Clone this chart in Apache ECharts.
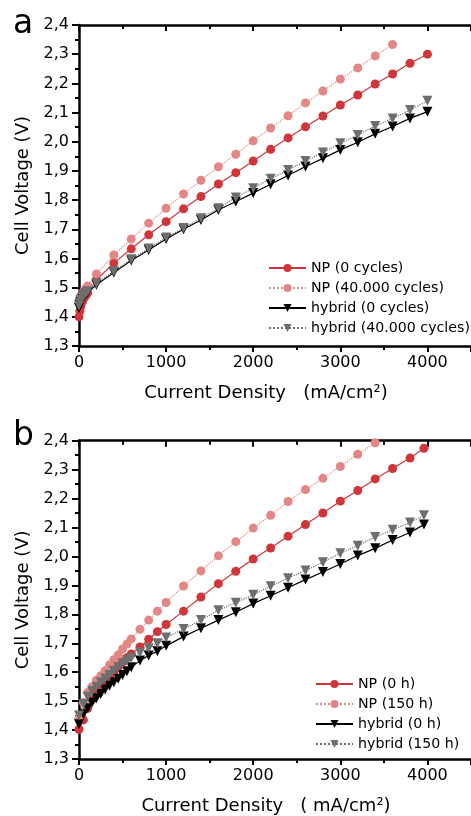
<!DOCTYPE html>
<html>
<head>
<meta charset="utf-8">
<script src="https://cdn.jsdelivr.net/npm/echarts@6/dist/echarts.min.js"></script>
<style>
html,body{margin:0;padding:0;background:#fff;}
#chart{width:471px;height:816px;}
</style>
</head>
<body>
<div id="chart"></div>
<script>
//面板a：电流密度 (mA/cm²)
var aX = [0,10,20,40,60,80,100,200,400,600,800,1000,1200,1400,1600,1800,2000,2200,2400,2600,2800,3000,3200,3400,3600,3800,4000];
var aNP0 = [1.400,1.420,1.435,1.452,1.465,1.474,1.482,1.527,1.584,1.633,1.681,1.726,1.770,1.812,1.855,1.894,1.934,1.974,2.013,2.051,2.088,2.126,2.160,2.198,2.232,2.269,2.300];
var aNP40k = [1.455,1.465,1.472,1.482,1.490,1.498,1.506,1.547,1.612,1.667,1.721,1.772,1.821,1.868,1.914,1.957,2.003,2.047,2.089,2.133,2.174,2.215,2.253,2.294,2.333];
var aHyb0 = [1.430,1.442,1.452,1.463,1.471,1.478,1.484,1.510,1.552,1.593,1.629,1.667,1.700,1.732,1.766,1.795,1.824,1.854,1.884,1.915,1.943,1.972,1.998,2.027,2.052,2.080,2.103];
var aHyb40k = [1.438,1.449,1.458,1.468,1.475,1.482,1.488,1.514,1.556,1.597,1.634,1.672,1.704,1.738,1.772,1.809,1.841,1.873,1.903,1.934,1.963,1.995,2.023,2.054,2.080,2.109,2.140];
var aNames = ['NP (0 cycles)','NP (40.000 cycles)','hybrid (0 cycles)','hybrid (40.000 cycles)'];

//面板b
var bX = [0,50,100,150,200,250,300,350,400,450,500,550,600,700,800,900,1000,1200,1400,1600,1800,2000,2200,2400,2600,2800,3000,3200,3400,3600,3800,3960];
var bNP0 = [1.403,1.435,1.475,1.505,1.530,1.550,1.568,1.585,1.602,1.618,1.635,1.650,1.663,1.687,1.714,1.740,1.765,1.811,1.860,1.906,1.949,1.991,2.029,2.070,2.110,2.150,2.191,2.228,2.268,2.304,2.340,2.374];
var bNP150 = [1.440,1.495,1.530,1.550,1.572,1.588,1.605,1.625,1.643,1.660,1.680,1.697,1.715,1.748,1.780,1.811,1.841,1.898,1.950,2.002,2.051,2.098,2.142,2.190,2.231,2.270,2.311,2.353,2.393];
var bHyb0 = [1.420,1.455,1.475,1.495,1.510,1.525,1.540,1.553,1.565,1.577,1.590,1.603,1.617,1.640,1.658,1.672,1.691,1.723,1.752,1.780,1.807,1.837,1.864,1.892,1.920,1.946,1.974,2.003,2.028,2.057,2.083,2.110];
var bHyb150 = [1.450,1.490,1.515,1.535,1.550,1.565,1.578,1.590,1.605,1.618,1.630,1.640,1.649,1.668,1.683,1.700,1.720,1.749,1.780,1.814,1.840,1.868,1.897,1.925,1.951,1.980,2.011,2.037,2.067,2.092,2.117,2.142];
var bNames = ['NP (0 h)','NP (150 h)','hybrid (0 h)','hybrid (150 h)'];

var xTicks = [0,1000,2000,3000,4000];
var FONT = 'DejaVu Sans';

function pairs(xs, ys){
	var out = [];
	for(var i = 0; i < ys.length; i++){
		out.push([xs[i], ys[i]]);
	}
	return out;
}

//四种曲线样式：红实线、浅红点线、黑实线、灰点线
var styles = [
	{color:'#d0353a', type:'solid', symbol:'circle', size:9, rot:0},
	{color:'#e38686', type:'dotted', symbol:'circle', size:9, rot:0},
	{color:'#000000', type:'solid', symbol:'triangle', size:10, rot:180},
	{color:'#6e6e6e', type:'dotted', symbol:'triangle', size:10, rot:180}
];

function makeSeries(name, data, k, xIdx, yIdx){
	var s = styles[k];
	return {
		name: name,
		type: 'line',
		xAxisIndex: xIdx,
		yAxisIndex: yIdx,
		data: data,
		symbol: s.symbol,
		symbolSize: s.size,
		symbolRotate: s.rot,
		showAllSymbol: true,
		itemStyle: {color: s.color, borderWidth: 0},
		lineStyle: {color: s.color, width: 1.2, type: s.type},
		clip: true
	};
}

function bottomAxis(gridIdx, name){
	return {
		type: 'value',
		gridIndex: gridIdx,
		position: 'bottom',
		min: 0,
		max: 4500,
		interval: 1000,
		name: name,
		nameLocation: 'middle',
		nameGap: 38,
		nameTextStyle: {fontFamily: FONT, fontSize: 18, color: '#000', padding: [0, 18, 0, 0]},
		axisLine: {show: true, onZero: false, lineStyle: {color: '#000', width: 2.5}},
		axisTick: {show: true, inside: false, length: 6, lineStyle: {color: '#000', width: 2}},
		minorTick: {show: true, splitNumber: 2, length: 4, lineStyle: {color: '#000', width: 2}},
		axisLabel: {
			fontFamily: FONT, fontSize: 16, color: '#000', margin: 9,
			showMaxLabel: false,
			formatter: function(v){ return xTicks.indexOf(v) >= 0 ? String(v) : ''; }
		},
		splitLine: {show: false}
	};
}

function topAxis(gridIdx){
	return {
		type: 'value',
		gridIndex: gridIdx,
		position: 'top',
		min: 0,
		max: 4500,
		interval: 1000,
		axisLine: {show: true, onZero: false, lineStyle: {color: '#000', width: 2.5}},
		axisTick: {show: true, inside: true, length: 6, lineStyle: {color: '#000', width: 2}},
		minorTick: {show: true, splitNumber: 2, length: 4, lineStyle: {color: '#000', width: 2}},
		axisLabel: {show: false},
		splitLine: {show: false}
	};
}

function leftAxis(gridIdx){
	return {
		type: 'value',
		gridIndex: gridIdx,
		min: 1.3,
		max: 2.4,
		interval: 0.1,
		name: 'Cell Voltage (V)',
		nameLocation: 'middle',
		nameGap: 30,
		nameTextStyle: {fontFamily: FONT, fontSize: 18, color: '#000'},
		axisLine: {show: true, onZero: false, lineStyle: {color: '#000', width: 2.5}},
		axisTick: {show: true, inside: false, length: 7, lineStyle: {color: '#000', width: 2}},
		minorTick: {show: true, splitNumber: 2, length: 4, lineStyle: {color: '#000', width: 2}},
		axisLabel: {
			fontFamily: FONT, fontSize: 16, color: '#000', margin: 10,
			formatter: function(v){ return v.toFixed(1).replace('.', ','); }
		},
		splitLine: {show: false}
	};
}

function legendOf(names, left, top){
	return {
		data: names,
		orient: 'vertical',
		left: left,
		top: top,
		itemWidth: 37,
		itemHeight: 10,
		itemGap: 6,
		selectedMode: false,
		textStyle: {fontFamily: FONT, fontSize: 14.2, color: '#000'}
	};
}

var chart = echarts.init(document.getElementById('chart'), null, {renderer: 'canvas'});
var option = {
	animation: false,
	backgroundColor: '#fff',
	grid: [
		{left: 79, top: 25, width: 398.6, height: 321, containLabel: false},
		{left: 79, top: 440.7, width: 398.6, height: 321, containLabel: false}
	],
	xAxis: [
		bottomAxis(0, 'Current Density   (mA/cm²)'),
		topAxis(0),
		bottomAxis(1, 'Current Density   ( mA/cm²)'),
		topAxis(1)
	],
	yAxis: [leftAxis(0), leftAxis(1)],
	legend: [
		legendOf(aNames, 263, 256),
		legendOf(bNames, 310, 672)
	],
	graphic: [
		{type: 'text', left: 13, top: 8, style: {text: 'a', font: '33px "DejaVu Sans"', fill: '#000'}},
		{type: 'text', left: 13, top: 420, style: {text: 'b', font: '33px "DejaVu Sans"', fill: '#000'}}
	],
	series: [
		makeSeries(aNames[0], pairs(aX, aNP0), 0, 0, 0),
		makeSeries(aNames[1], pairs(aX, aNP40k), 1, 0, 0),
		makeSeries(aNames[2], pairs(aX, aHyb0), 2, 0, 0),
		makeSeries(aNames[3], pairs(aX, aHyb40k), 3, 0, 0),
		makeSeries(bNames[0], pairs(bX, bNP0), 0, 2, 1),
		makeSeries(bNames[1], pairs(bX, bNP150), 1, 2, 1),
		makeSeries(bNames[2], pairs(bX, bHyb0), 2, 2, 1),
		makeSeries(bNames[3], pairs(bX, bHyb150), 3, 2, 1)
	]
};
chart.setOption(option);
</script>
</body>
</html>
